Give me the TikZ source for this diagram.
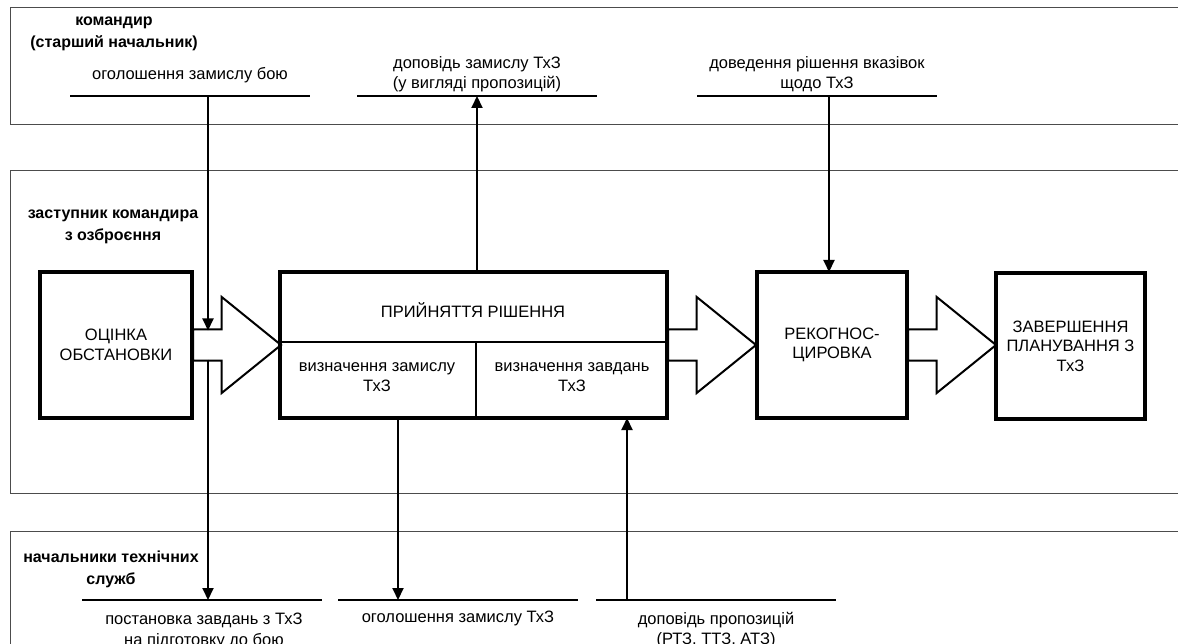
\documentclass[tikz,border=0pt]{standalone}
\usepackage{fontspec}
\setmainfont{Liberation Sans}
\usetikzlibrary{arrows.meta,positioning,shapes.arrows}

\begin{document}
\begin{tikzpicture}[
  x=1pt, y=-1pt,
  band/.style={draw=black!70, line width=1pt},
  block/.style={draw, line width=3.5pt, minimum height=146pt, inner sep=2pt,
                outer sep=0pt, align=center, font=\fontsize{16.5}{19.5}\selectfont},
  bigarr/.style={single arrow, draw, line width=2pt, minimum height=88pt,
                 inner xsep=0pt, inner ysep=14.5pt, single arrow head extend=32.5pt,
                 single arrow tip angle=78, anchor=tail},
  txt/.style={align=center, inner sep=0pt, font=\fontsize{16.5}{20.5}\selectfont},
  who/.style={align=center, inner sep=0pt, font=\bfseries\fontsize{16}{22}\selectfont},
  bar/.style={line width=2.5pt},
  arr/.style={-{Triangle[length=12pt,width=11pt]}, line width=2pt},
]
\useasboundingbox (0,0) rectangle (1178,644);
\clip (0,0) rectangle (1178,644);

% bands
\draw[band] (1200,8) -- (10,8) -- (10,125) -- (1200,125);
\draw[band] (1200,171) -- (10,171) -- (10,493) -- (1200,493);
\draw[band] (1200,531) -- (10,531) -- (10,660);

\node[who] (w1) at (114,34)  {командир\\(старший начальник)};
\node[who] (w2) at (113,227) {заступник командира\\з озброєння};
\node[who] (w3) at (111,569) {начальники технічних\\служб};

% main blocks
\node[block, minimum width=152pt] (oc) at (116,345)   {ОЦІНКА\\ОБСТАНОВКИ};
\node[block, minimum width=387pt] (pr) at (473.5,345) {};
\node[block, minimum width=150pt] (rk) at (832,345)   {РЕКОГНОС-\\ЦИРОВКА};
\node[block, minimum width=149pt] (zv) at (1070.5,346) {ЗАВЕРШЕННЯ\\ПЛАНУВАННЯ З\\ТхЗ};

\node[bigarr] (a1) at (oc.east) {};
\node[bigarr] (a2) at (pr.east) {};
\node[bigarr] (a3) at (rk.east) {};

\coordinate (prmid) at (476,342);
\draw[line width=2pt] (pr.west |- prmid) -- (pr.east |- prmid);
\draw[line width=2pt] (prmid) -- (prmid |- pr.south);
\node[txt] (prt) at (473,310) {ПРИЙНЯТТЯ РІШЕННЯ};
\node[txt] (z1)  at (377,377) {визначення замислу\\ТхЗ};
\node[txt] (z2)  at (572,377) {визначення завдань\\ТхЗ};

% top bars
\node[txt] (t1) at (190,75) {оголошення замислу бою};
\node[txt] (t2) at (477,74) {доповідь замислу ТхЗ\\(у вигляді пропозицій)};
\node[txt] (t3) at (817,74) {доведення рішення вказівок\\щодо ТхЗ};
\draw[bar] (70,96) -- (310,96);
\draw[bar] (357,96) -- (597,96);
\draw[bar] (697,96) -- (937,96);
\coordinate (b1) at (208,96);
\coordinate (b2) at (477,96);
\coordinate (b3) at (829,96);

% bottom bars
\node[txt] (s1) at (204,631) {постановка завдань з ТхЗ\\на підготовку до бою};
\node[txt] (s2) at (458,618) {оголошення замислу ТхЗ};
\node[txt] (s3) at (716,630) {доповідь пропозицій\\(РТЗ, ТТЗ, АТЗ)};
\draw[bar] (82,600) -- (322,600);
\draw[bar] (338,600) -- (578,600);
\draw[bar] (596,600) -- (836,600);
\coordinate (d1) at (208,600);
\coordinate (d2) at (398,600);
\coordinate (d3) at (627,600);

\coordinate (in1)  at (208,330.5);
\coordinate (out1) at (208,359.5);

\draw[arr] (b1) -- (in1);
\draw[arr] (out1) -- (d1);
\draw[arr] (pr.north -| b2) -- (b2);
\draw[arr] (b3) -- (b3 |- rk.north);
\draw[arr] (pr.south -| d2) -- (d2);
\draw[arr] (d3) -- (d3 |- pr.south);
\end{tikzpicture}
\end{document}
